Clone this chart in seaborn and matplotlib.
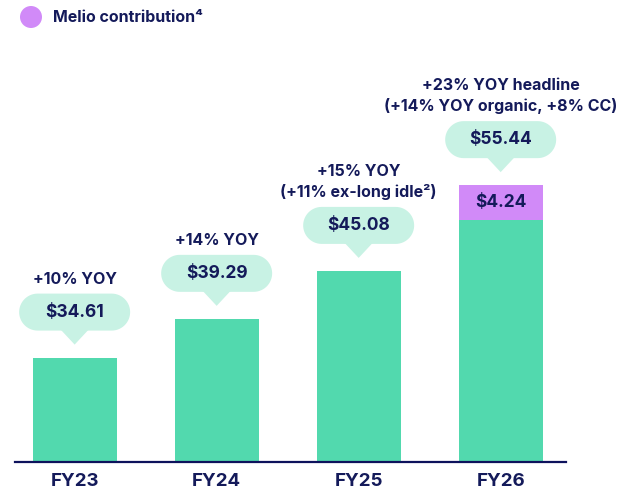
import numpy as np
import pandas as pd
import matplotlib
matplotlib.use("Agg")
import matplotlib.pyplot as plt
import seaborn as sns
from matplotlib.patches import Polygon, Circle, PathPatch
from matplotlib.path import Path
from matplotlib.transforms import IdentityTransform

# ---- data ----
years = ["FY23", "FY24", "FY25", "FY26"]
organic = [34.61, 39.29, 45.08, 51.20]
melio = [0.0, 0.0, 0.0, 4.24]
totals = [34.61, 39.29, 45.08, 55.44]
value_labels = ["$34.61", "$39.29", "$45.08", "$55.44"]
yoy_labels = [["+10% YOY"],
              ["+14% YOY"],
              ["+15% YOY", "(+11% ex-long idle²)"],
              ["+23% YOY headline", "(+14% YOY organic, +8% CC)"]]
melio_label = "$4.24"
legend_label = "Melio contribution⁴"

GREEN = "#52D9AE"
BUBBLE = "#C8F2E4"
PURPLE = "#D18AF8"
NAVY = "#141A5A"

sns.set_theme(style="white")
plt.rcParams["font.family"] = ["Inter", "DejaVu Sans"]

W, H = 619, 493
fig = plt.figure(figsize=(W / 100, H / 100), dpi=100)
ax = fig.add_axes([15 / W, (H - 462) / H, (566 - 15) / W, 462 / H])

df = pd.DataFrame({"year": years, "organic": organic, "melio": melio, "total": totals})

sns.barplot(data=df, x="year", y="total", color=PURPLE, saturation=1, width=0.59,
            linewidth=0, edgecolor="none", ax=ax)
sns.barplot(data=df, x="year", y="organic", color=GREEN, saturation=1, width=0.59,
            linewidth=0, edgecolor="none", ax=ax)

ax.set_ylim(22, 77.8)
ax.set_xlim(-0.42, 3.46)
for s in ["top", "right", "left"]:
    ax.spines[s].set_visible(False)
ax.spines["bottom"].set_color("#0D125C")
ax.spines["bottom"].set_linewidth(1.6)
ax.spines["bottom"].set_zorder(6)
ax.set_yticks([])
ax.set_xlabel("")
ax.set_ylabel("")
ax.tick_params(axis="x", length=0, pad=8)
for lab in ax.get_xticklabels():
    lab.set_fontsize(13.5)
    lab.set_fontweight("bold")
    lab.set_color(NAVY)

fig.canvas.draw()
ident = IdentityTransform()


def pill_path(cx, y0, y1, w):
    r = (y1 - y0) / 2.0
    xl, xr = cx - w / 2 + r, cx + w / 2 - r
    cy = (y0 + y1) / 2.0
    verts = [(xl, y0), (xr, y0)]
    for a in np.linspace(-np.pi / 2, np.pi / 2, 30):
        verts.append((xr + r * np.cos(a), cy + r * np.sin(a)))
    verts.append((xl, y1))
    for a in np.linspace(np.pi / 2, 3 * np.pi / 2, 30):
        verts.append((xl + r * np.cos(a), cy + r * np.sin(a)))
    verts.append((xl, y0))
    codes = [Path.MOVETO] + [Path.LINETO] * (len(verts) - 2) + [Path.CLOSEPOLY]
    return Path(verts, codes)


for i, (tot, vl, yl) in enumerate(zip(totals, value_labels, yoy_labels)):
    px, py = ax.transData.transform((i, tot))
    tip = py + 13
    bot = py + 27
    top = py + 64
    bw = 111
    fig.patches.append(PathPatch(pill_path(px, bot, top, bw), fc=BUBBLE, ec="none",
                                 transform=ident, zorder=4))
    tri = Polygon([[px - 14, bot + 1], [px + 14, bot + 1], [px, tip]], closed=True,
                  fc=BUBBLE, ec="none", transform=ident, zorder=4)
    fig.patches.append(tri)
    fig.text(px / W, ((bot + top) / 2) / H, vl, ha="center", va="center",
             fontsize=12.5, fontweight="bold", color=NAVY, zorder=5)
    lines = yl[::-1]
    for j, line in enumerate(lines):
        fig.text(px / W, (top + 10 + j * 21) / H, line, ha="center", va="baseline",
                 fontsize=11.5, fontweight="bold", color=NAVY, zorder=5)

# melio segment label
px, py1 = ax.transData.transform((3, organic[3]))
_, py2 = ax.transData.transform((3, totals[3]))
fig.text(px / W, ((py1 + py2) / 2) / H, melio_label, ha="center", va="center",
         fontsize=12.5, fontweight="bold", color=NAVY, zorder=5)

# legend
fig.patches.append(Circle((31, H - 17), 11, fc=PURPLE, ec="none", transform=ident))
fig.text(53 / W, (H - 17) / H, legend_label, ha="left", va="center",
         fontsize=11.5, fontweight="bold", color=NAVY)

fig.savefig("out.png", dpi=100)
